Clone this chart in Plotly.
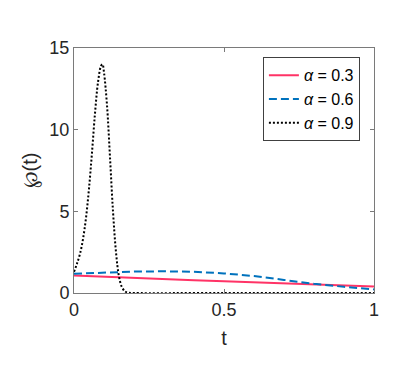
import plotly.graph_objects as go

# values
t_a3 = [0, 0.1, 0.2, 0.3, 0.4, 0.5, 0.6, 0.7, 0.8, 0.9, 1.0]
p_a3 = [1.07, 0.99, 0.92, 0.85, 0.78, 0.72, 0.65, 0.58, 0.52, 0.46, 0.40]

t_a6 = [0, 0.1, 0.2, 0.3, 0.4, 0.5, 0.6, 0.7, 0.8, 0.9, 1.0]
p_a6 = [1.18, 1.25, 1.31, 1.33, 1.30, 1.20, 1.04, 0.80, 0.56, 0.38, 0.22]

t_a9 = [0, 0.01, 0.02, 0.03, 0.04, 0.05, 0.06, 0.07, 0.08, 0.09, 0.095,
        0.10, 0.11, 0.12, 0.13, 0.14, 0.15, 0.16, 0.17, 0.18, 0.2, 0.5, 1.0]
p_a9 = [1.3, 1.8, 2.4, 3.3, 4.6, 6.4, 8.6, 11.0, 12.9, 13.9, 14.0,
        13.5, 11.5, 8.3, 5.0, 2.5, 1.0, 0.35, 0.1, 0.02, 0, 0, 0]

labels = ["<i>α</i> = 0.3", "<i>α</i> = 0.6", "<i>α</i> = 0.9"]

fig = go.Figure()
fig.add_trace(go.Scatter(x=t_a3, y=p_a3, name=labels[0], mode="lines",
                         line=dict(color="#ff3366", width=2)))
fig.add_trace(go.Scatter(x=t_a6, y=p_a6, name=labels[1], mode="lines",
                         line=dict(color="#0072bd", width=2, dash="8px,4px")))
fig.add_trace(go.Scatter(x=t_a9, y=p_a9, name=labels[2], mode="lines",
                         line=dict(color="#000000", width=2, dash="2px,2px"),
                         line_shape="spline"))

axis_style = dict(showline=True, mirror="allticks", linecolor="#7a7a7a",
                  linewidth=1, ticks="inside", ticklen=4, tickcolor="#7a7a7a",
                  showgrid=False, zeroline=False,
                  tickfont=dict(size=18, color="#262626"))

fig.update_layout(
    width=407, height=366,
    paper_bgcolor="white", plot_bgcolor="white",
    margin=dict(l=66, r=41, t=40, b=81),
    font=dict(family="Liberation Sans, Arial, sans-serif", color="#262626"),
    xaxis=dict(range=[0, 1], tickvals=[0, 0.5, 1], ticktext=["0", "0.5", "1"],
               title=dict(text="t", font=dict(size=20), standoff=12), **axis_style),
    yaxis=dict(range=[0, 15], tickvals=[0, 5, 10, 15],
               title=dict(text="℘(t)", font=dict(size=20), standoff=6), **axis_style),
    legend=dict(x=0.953, y=0.962, xanchor="right", yanchor="top",
                bgcolor="white", bordercolor="#404040", borderwidth=1,
                font=dict(size=16, color="#000000"), tracegroupgap=0,
                itemwidth=30),
    showlegend=True,
)

fig.write_html("out.html")
